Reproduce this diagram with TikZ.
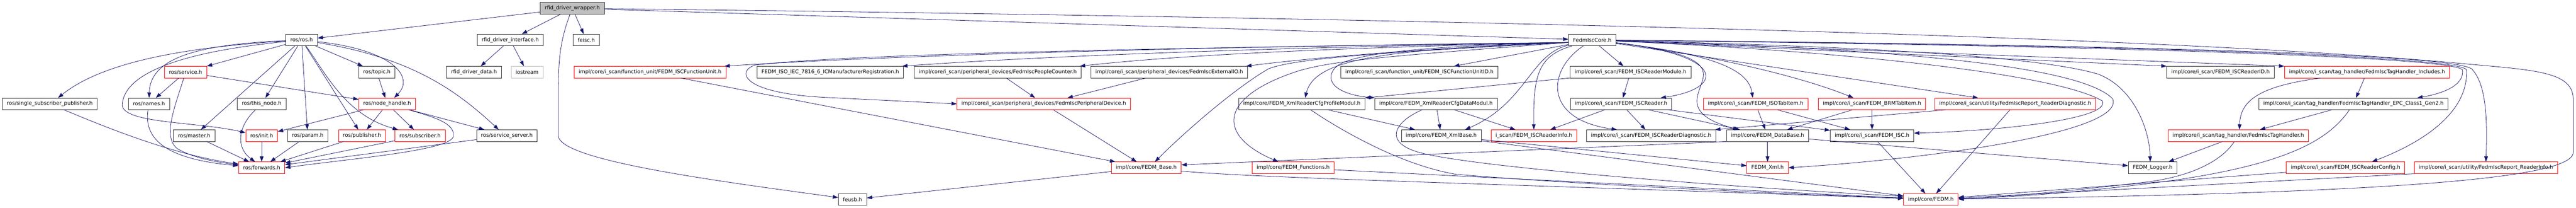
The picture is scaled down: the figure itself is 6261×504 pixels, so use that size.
\documentclass[tikz,border=0pt]{standalone}
\usepackage{fontspec}
\setmainfont{DejaVu Sans}
\usetikzlibrary{arrows.meta}

\definecolor{depblue}{HTML}{191970}
\definecolor{boxgrey}{HTML}{BFBFBF}

\tikzset{
  hdr/.style={draw=black!80, line width=1pt, fill=white, minimum height=28pt,
    inner xsep=11pt, inner ysep=0pt, font=\fontsize{12.6}{15}\selectfont},
  redhdr/.style={hdr, draw=red},
  greyhdr/.style={hdr, draw=boxgrey},
  dep/.style={draw=depblue, line width=1pt, -{Triangle[length=13pt,width=9pt]}}
}

\begin{document}
\begin{tikzpicture}[x=1pt,y=-1pt]
\useasboundingbox (0,0) rectangle (6261,504);
\fill[white] (0,0) rectangle (6261,504);

%Top file
\node[hdr, fill=boxgrey] (wrapper) at (1391,20) {rfid\_driver\_wrapper.h};

%Row 2
\node[hdr] (ros) at (733,97) {ros/ros.h};
\node[hdr] (iface) at (1240,97) {rfid\_driver\_interface.h};
\node[hdr] (feisc) at (1425,97) {feisc.h};
\node[hdr] (core) at (3870,97) {FedmIscCore.h};

%Row 3
\node[redhdr] (service) at (451,175) {ros/service.h};
\node[hdr] (topic) at (916,175) {ros/topic.h};
\node[hdr] (ddata) at (1152,175) {rfid\_driver\_data.h};
\node[greyhdr] (iostream) at (1281,175) {iostream};
\node[redhdr] (funit) at (1580,175) {impl/core/i\_scan/function\_unit/FEDM\_ISCFunctionUnit.h};
\node[hdr] (icman) at (2018,175) {FEDM\_ISO\_IEC\_7816\_6\_ICManufacturerRegistration.h};
\node[hdr] (people) at (2425,175) {impl/core/i\_scan/peripheral\_devices/FedmIscPeopleCounter.h};
\node[hdr] (extio) at (2842,175) {impl/core/i\_scan/peripheral\_devices/FedmIscExternalIO.h};
\node[hdr] (funitid) at (3450,175) {impl/core/i\_scan/function\_unit/FEDM\_ISCFunctionUnitID.h};
\node[hdr] (rmodule) at (3963,175) {impl/core/i\_scan/FEDM\_ISCReaderModule.h};
\node[hdr] (readerid) at (5397,175) {impl/core/i\_scan/FEDM\_ISCReaderID.h};
\node[redhdr] (thincl) at (5753,175) {impl/core/i\_scan/tag\_handler/FedmIscTagHandler\_Includes.h};

%Row 4
\node[hdr] (ssp) at (121,252) {ros/single\_subscriber\_publisher.h};
\node[hdr] (names) at (362,252) {ros/names.h};
\node[hdr] (thisnode) at (636,252) {ros/this\_node.h};
\node[redhdr] (nh) at (941,252) {ros/node\_handle.h};
\node[redhdr] (periph) at (2537,252) {impl/core/i\_scan/peripheral\_devices/FedmIscPeripheralDevice.h};
\node[hdr] (profile) at (3164,252) {impl/core/FEDM\_XmlReaderCfgProfileModul.h};
\node[hdr] (datamod) at (3490,252) {impl/core/FEDM\_XmlReaderCfgDataModul.h};
\node[hdr] (reader) at (3940,252) {impl/core/i\_scan/FEDM\_ISCReader.h};
\node[redhdr] (isotab) at (4267,252) {impl/core/i\_scan/FEDM\_ISOTabItem.h};
\node[redhdr] (brmtab) at (4550,252) {impl/core/i\_scan/FEDM\_BRMTabItem.h};
\node[redhdr] (repdiag) at (4898,252) {impl/core/i\_scan/utility/FedmIscReport\_ReaderDiagnostic.h};
\node[hdr] (epc) at (5720,252) {impl/core/i\_scan/tag\_handler/FedmIscTagHandler\_EPC\_Class1\_Gen2.h};

%Row 5
\node[hdr] (master) at (472,329) {ros/master.h};
\node[redhdr] (init) at (636,329) {ros/init.h};
\node[hdr] (param) at (748,329) {ros/param.h};
\node[redhdr] (pub) at (880,329) {ros/publisher.h};
\node[redhdr] (sub) at (1021,329) {ros/subscriber.h};
\node[hdr] (sserver) at (1232,329) {ros/service\_server.h};
\node[hdr] (xmlbase) at (3503,329) {impl/core/FEDM\_XmlBase.h};
\node[redhdr] (rinfo) at (3728,329) {i\_scan/FEDM\_ISCReaderInfo.h};
\node[hdr] (rdiag) at (4013,329) {impl/core/i\_scan/FEDM\_ISCReaderDiagnostic.h};
\node[hdr] (database) at (4296,329) {impl/core/FEDM\_DataBase.h};
\node[hdr] (isc) at (4550,329) {impl/core/i\_scan/FEDM\_ISC.h};
\node[redhdr] (taghandler) at (5440,329) {impl/core/i\_scan/tag\_handler/FedmIscTagHandler.h};

%Row 6
\node[redhdr] (fwd) at (636,407) {ros/forwards.h};
\node[redhdr] (base) at (2786,407) {impl/core/FEDM\_Base.h};
\node[redhdr] (functions) at (3143,407) {impl/core/FEDM\_Functions.h};
\node[redhdr] (fxml) at (4296,407) {FEDM\_Xml.h};
\node[hdr] (logger) at (5232,407) {FEDM\_Logger.h};
\node[redhdr] (rconfig) at (5701,407) {impl/core/i\_scan/FEDM\_ISCReaderConfig.h};
\node[redhdr] (repinfo) at (6042,407) {impl/core/i\_scan/utility/FedmIscReport\_ReaderInfo.h};

%Row 7
\node[hdr] (feusb) at (2072,484) {feusb.h};
\node[redhdr] (fedm) at (4693,484) {impl/core/FEDM.h};

%% Straight includes
\foreach \from/\to in {wrapper/ros, wrapper/iface, wrapper/feisc, wrapper/core, iface/ddata, iface/iostream,
  ros/topic, ros/thisnode, ros/param, ros/pub, ros/master, topic/nh, service/names, service/nh,
  nh/init, nh/pub, nh/sub, nh/sserver, master/fwd, init/fwd, param/fwd, pub/fwd, sub/fwd, sserver/fwd,
  core/rmodule, rmodule/reader, funit/base, people/periph, extio/periph, periph/base, base/feusb,
  functions/fedm, profile/xmlbase, datamod/xmlbase, datamod/rinfo, xmlbase/fxml, xmlbase/fedm,
  reader/rinfo, reader/rdiag, reader/database, reader/isc, isotab/database, isotab/isc,
  brmtab/database, brmtab/isc, repdiag/fedm, database/fxml, database/logger, isc/fedm,
  taghandler/logger, epc/taghandler, thincl/epc, rconfig/fedm}
\draw [dep] (\from) -- (\to);

%% ros includes
\draw[dep] (ros) -- (service.north east);
\draw[dep] (ros) .. controls (790,175) and (840,280) .. ([xshift=8pt]sub.north west);
\draw[dep] (ros) .. controls (950,120) and (1010,185) .. ([xshift=17pt]nh.north);
\draw[dep] (ros) .. controls (1000,140) and (1110,220) .. ([xshift=-20pt]sserver.north);
\draw[dep] (ros) .. controls (450,115) and (250,150) .. ([xshift=20pt]ssp.north);
\draw[dep] (ros) .. controls (480,108) and (365,140) .. (names);
\draw[dep] (ros) .. controls (400,130) and (300,190) .. (297,255) .. controls (300,300) and (480,295) .. ([yshift=7pt]init.west);
\draw[dep] (service) .. controls (425,260) and (395,330) .. (430,360) .. controls (470,385) and (540,395) .. ([yshift=7pt]fwd.west);
\draw[dep] (ssp) .. controls (260,310) and (420,375) .. ([yshift=9pt]fwd.west);
\draw[dep] (names) .. controls (350,330) and (390,385) .. ([yshift=5pt]fwd.west);
\draw[dep] (thisnode) .. controls (575,310) and (575,360) .. ([xshift=-16pt]fwd.north);
\draw[dep] (nh) .. controls (1060,285) and (1105,300) .. (1102,330) .. controls (1100,365) and (850,385) .. (fwd.east);

%% wrapper to the usb lib and the FEDM header
\draw[dep] (wrapper) .. controls (1357,110) and (1357,160) .. (1357,250) -- (1357,330) .. controls (1362,390) and (1750,440) .. (feusb);
\draw[dep] (wrapper) .. controls (3500,45) and (5200,85) .. (5961,152) .. controls (6150,170) and (6254,170) .. (6254,240) -- (6254,370) .. controls (6254,440) and (5700,470) .. (fedm);

%% FedmIscCore, left side
\draw[dep] ([yshift=-6pt]core.west) .. controls (3000,112) and (2200,132) .. ([xshift=-4pt]funit.north east);
\draw[dep] ([yshift=-6pt]core.west) .. controls (3100,115) and (2550,135) .. ([xshift=-4pt]icman.north east);
\draw[dep] ([yshift=-6pt]core.west) .. controls (3300,115) and (2900,130) .. ([xshift=-4pt]people.north east);
\draw[dep] ([yshift=-6pt]core.west) .. controls (3400,120) and (3150,145) .. ([xshift=-4pt]extio.north east);
\draw[dep] ([yshift=-6pt]core.west) .. controls (3200,112) and (2100,125) .. (1835,158) .. controls (1790,172) and (1800,225) .. (2000,236) -- (periph.west);
\draw[dep] ([yshift=-6pt]core.west) .. controls (3400,125) and (3150,140) .. (3083,167) .. controls (3000,215) and (2880,320) .. ([xshift=21pt]base.north);
\draw[dep] ([yshift=-6pt]core.west) .. controls (3400,135) and (3230,145) .. (3141,177) .. controls (2960,240) and (2960,330) .. ([xshift=-36pt]functions.north);
\draw[dep] ([yshift=-6pt]core.west) .. controls (3350,120) and (3195,145) .. ([xshift=8pt]profile.north);
\draw[dep] ([yshift=-6pt]core.west) .. controls (3450,112) and (3290,130) .. (3250,160) .. controls (3215,190) and (3240,228) .. (datamod.north west);
\draw[dep] (core) -- ([xshift=84pt]funitid.north);
\draw[dep] (rmodule) -- (profile.north east);

%% FedmIscCore, below
\draw[dep] (core) .. controls (3740,135) and (3726,180) .. (rinfo.north);
\draw[dep] (core) .. controls (3720,130) and (3710,250) .. ([xshift=58pt]xmlbase.north);
\draw[dep] (core) .. controls (3760,170) and (3750,290) .. ([xshift=-83pt]rdiag.north);
\draw[dep] (core) .. controls (4200,135) and (4190,215) .. ([xshift=96pt]reader.north);
\draw[dep] (core) .. controls (4080,122) and (4145,145) .. (4140,185) .. controls (4135,225) and (4080,275) .. ([xshift=-71pt]database.north);
\draw[dep] (core) .. controls (4150,130) and (4250,165) .. ([xshift=-7pt]isotab.north);
\draw[dep] (core) .. controls (4100,125) and (4350,175) .. ([xshift=-45pt]brmtab.north);
\draw[dep] (core) -- ([xshift=-90pt]repdiag.north);

%% FedmIscCore, right side
\draw[dep] (core) .. controls (4500,125) and (5000,180) .. (5110,245) .. controls (5130,290) and (4850,318) .. ([yshift=6pt]isc.east);
\draw[dep] (core) .. controls (4500,115) and (5050,150) .. (5135,240) .. controls (5165,320) and (4700,385) .. (fxml.east);
\draw[dep] (core) .. controls (4500,112) and (4950,135) .. (5100,180) .. controls (5190,215) and (5225,320) .. ([xshift=-6pt]logger.north);
\draw[dep] (core) -- (readerid.north west);
\draw[dep] (core) -- (thincl.north west);
\draw[dep] (core) .. controls (5200,112) and (5975,140) .. (5985,170) .. controls (5990,210) and (5930,228) .. ([xshift=155pt]epc.north);
\draw[dep] (core) .. controls (5300,110) and (5990,140) .. (5995,170) .. controls (6000,290) and (5850,360) .. ([xshift=64pt]rconfig.north);
\draw[dep] (core) .. controls (5300,110) and (6000,135) .. (6010,170) .. controls (6045,210) and (6045,300) .. (repinfo.north);

%% lower level
\draw[dep] (base) .. controls (3050,432) and (3700,448) .. (fedm);
\draw[dep] (profile) .. controls (3250,310) and (3400,400) .. (3540,423) .. controls (3800,445) and (4300,470) .. ([yshift=4pt]fedm.west);
\draw[dep] (datamod) .. controls (3390,295) and (3360,345) .. (3450,370) .. controls (3600,410) and (4300,460) .. ([yshift=8pt]fedm.west);
\draw[dep] (database.south west) -- ([yshift=7pt]base.east);
\draw[dep] (repdiag) -- ([xshift=-2pt]rdiag.north east);
\draw[dep] (thincl) .. controls (5480,210) and (5445,250) .. ([xshift=3pt]taghandler.north);
\draw[dep] (taghandler) .. controls (5400,390) and (5330,425) .. (5230,440) .. controls (5050,462) and (4850,480) .. (fedm);
\draw[dep] (epc) .. controls (5660,340) and (5560,395) .. (5300,435) .. controls (5050,470) and (4850,480) .. (fedm);
\draw[dep] (repinfo.south west) -- (fedm);
\end{tikzpicture}
\end{document}
